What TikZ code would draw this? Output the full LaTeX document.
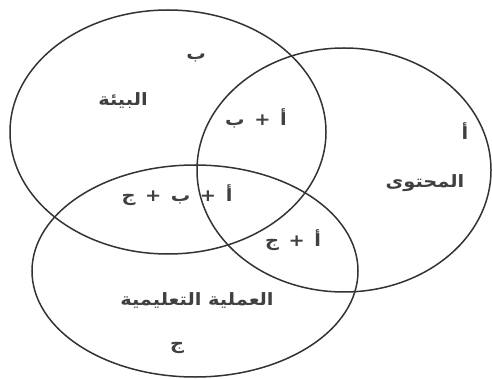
\documentclass[tikz,border=0pt]{standalone}
\usepackage{fontspec}
\newfontfamily\arabicfont[Script=Arabic, FakeStretch=1.14]{DejaVu Sans}
\TeXXeTstate=1
\newcommand{\artext}[1]{\beginR #1\endR}
\newcommand{\plussign}{\ \,+\,\ }
\tikzset{
    venn/.style={draw=black!80, line width=1.5pt},
    lbl/.style={font=\arabicfont\bfseries\fontsize{17}{20}\selectfont, black!75, inner sep=0pt}
}
\begin{document}
\begin{tikzpicture}[x=1pt, y=-1pt]
    \useasboundingbox (0,0) rectangle (492,379);

    % B: environment (top-left)
    \draw[venn] (168,132) ellipse [x radius=158, y radius=122];
    % A: content (right)
    \draw[venn] (344,170) ellipse [x radius=147, y radius=122];
    % C: teaching process (bottom)
    \draw[venn] (195,271) ellipse [x radius=163, y radius=106];

    % Labels for B
    \node[lbl] (bLetter) at (196,58) {\artext{ب}};
    \node[lbl] (bName) at (123,101) {\artext{البيئة}};

    % Labels for A
    \node[lbl] (aLetter) at (465,131) {\artext{أ}};
    \node[lbl] (aName) at (425,183) {\artext{المحتوى}};

    % Labels for C
    \node[lbl] (cName) at (197,300) {\artext{العملية التعليمية}};
    \node[lbl] (cLetter) at (177,348) {\artext{ج}};

    % Overlaps
    \node[lbl] (ab) at (256,118) {\artext{أ\plussign ب}};
    \node[lbl] (ac) at (293,240) {\artext{أ\plussign ج}};
    \node[lbl] (abc) at (177,195) {\artext{أ\plussign ب\plussign ج}};
\end{tikzpicture}
\end{document}
